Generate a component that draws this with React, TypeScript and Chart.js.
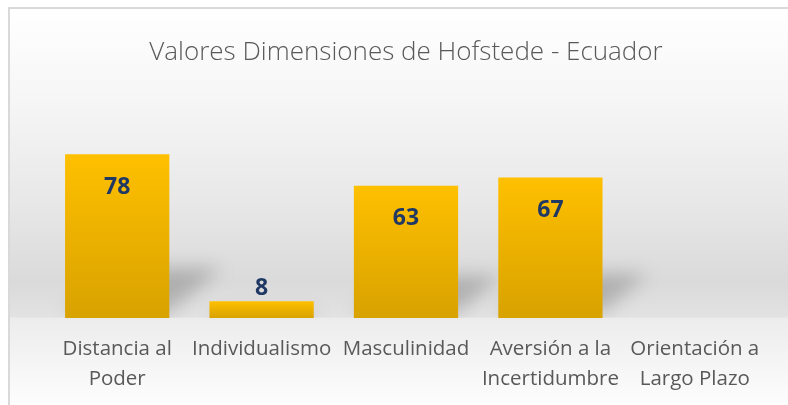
import React, { useEffect, useRef } from "react";
import { Chart, registerables } from "chart.js";

Chart.register(...registerables);

const TITLE = "Valores Dimensiones de Hofstede - Ecuador";
const CATEGORIES: string[][] = [
  ["Distancia al", "Poder"],
  ["Individualismo"],
  ["Masculinidad"],
  ["Aversión a la", "Incertidumbre"],
  ["Orientación a", "Largo Plazo"],
];
const VALUES: (number | null)[] = [78, 8, 63, 67, null];
const Y_MIN = 0;
const Y_MAX = 90;

const FONT = "'Open Sans', 'Noto Sans', sans-serif";

const backgroundPlugin = {
  id: "bgPlugin",
  beforeDraw(chart: any) {
    const { ctx, width, height, chartArea } = chart;
    ctx.save();
    ctx.fillStyle = "#ffffff";
    ctx.fillRect(0, 0, width, height);
    const top = 9;
    const base = chartArea.bottom;
    const g = ctx.createLinearGradient(0, top, 0, height);
    const t = (y: number) => Math.min(1, Math.max(0, (y - top) / (height - top)));
    g.addColorStop(0, "#ffffff");
    g.addColorStop(t(100), "#f6f6f6");
    g.addColorStop(t(200), "#e8e8e8");
    g.addColorStop(t(base - 36), "#dadada");
    g.addColorStop(t(base - 1), "#e2e2e2");
    g.addColorStop(t(base), "#ececec");
    g.addColorStop(t(base + 40), "#f4f4f4");
    g.addColorStop(1, "#fdfdfd");
    ctx.fillStyle = g;
    ctx.fillRect(10, top, width - 10, height - top);
    ctx.fillStyle = "#d9d9d9";
    ctx.fillRect(8, 7, 2, height - 7);
    ctx.fillRect(8, 7, width - 8, 2);
    ctx.restore();
  },
};

const shadowPlugin = {
  id: "shadowPlugin",
  beforeDatasetsDraw(chart: any) {
    const { ctx, chartArea } = chart;
    const meta = chart.getDatasetMeta(0);
    ctx.save();
    ctx.beginPath();
    ctx.rect(chartArea.left, chartArea.top - 60, chartArea.width + 20, chartArea.bottom - chartArea.top + 60);
    ctx.clip();
    ctx.filter = "blur(9px)";
    ctx.fillStyle = "rgba(0,0,0,0.2)";
    meta.data.forEach((el: any, i: number) => {
      if (VALUES[i] == null) return;
      const h = el.base - el.y;
      const x0 = el.x - el.width / 2;
      const x1 = el.x + el.width / 2;
      const dx = h * 0.32;
      const dy = h * 0.27;
      const lift = Math.min(6, h * 0.05);
      const b = el.base - lift;
      ctx.beginPath();
      ctx.moveTo(x0, b);
      ctx.lineTo(x1, b);
      ctx.lineTo(x1 + dx, b - dy);
      ctx.lineTo(x0 + dx, b - dy);
      ctx.closePath();
      ctx.fill();
    });
    ctx.restore();
  },
};

const valueLabelPlugin = {
  id: "valueLabels",
  afterDatasetsDraw(chart: any) {
    const { ctx } = chart;
    const meta = chart.getDatasetMeta(0);
    ctx.save();
    ctx.font = `bold 23px ${FONT}`;
    ctx.fillStyle = "#203864";
    ctx.textAlign = "center";
    ctx.textBaseline = "middle";
    meta.data.forEach((el: any, i: number) => {
      const v = VALUES[i];
      if (v == null) return;
      const h = el.base - el.y;
      const y = h > 40 ? el.y + 33 : el.y - 13;
      ctx.fillText(String(v), el.x, y);
    });
    ctx.restore();
  },
};

export default function App() {
  const ref = useRef<HTMLCanvasElement | null>(null);

  useEffect(() => {
    if (!ref.current) return;
    const chart = new Chart(ref.current, {
      type: "bar",
      data: {
        labels: CATEGORIES,
        datasets: [
          {
            data: VALUES,
            borderWidth: 0,
            barPercentage: 0.722,
            categoryPercentage: 1,
            backgroundColor: (ctx: any) => {
              const c = ctx.chart;
              const ys = c.scales?.y;
              const v = ctx.raw;
              if (!ys || v == null) return "#FFC000";
              const yTop = ys.getPixelForValue(v);
              const yBase = ys.getPixelForValue(0);
              if (!isFinite(yTop) || !isFinite(yBase) || yTop === yBase) return "#FFC000";
              const g = c.ctx.createLinearGradient(0, yTop, 0, yBase);
              g.addColorStop(0, "#FFC000");
              g.addColorStop(1, "#D8A200");
              return g;
            },
          },
        ],
      },
      options: {
        animation: false,
        responsive: false,
        devicePixelRatio: 1,
        layout: { padding: { left: 45, right: 21, top: 8, bottom: 0 } },
        plugins: {
          legend: { display: false },
          tooltip: { enabled: false },
          title: {
            display: true,
            text: TITLE,
            color: "#595959",
            font: { family: FONT, size: 26, weight: "300", lineHeight: 1.2 },
            padding: { top: 29, bottom: 61 },
          },
        },
        scales: {
          x: {
            grid: { display: false, drawTicks: false },
            border: { display: false },
            ticks: {
              color: "#595959",
              font: { family: FONT, size: 20.5, lineHeight: 1.42 },
              padding: 17,
              maxRotation: 0,
              autoSkip: false,
            },
            afterFit: (s: any) => {
              s.height = 87;
            },
          },
          y: { display: false, min: Y_MIN, max: Y_MAX },
        },
      },
      plugins: [backgroundPlugin, shadowPlugin, valueLabelPlugin],
    } as any);
    return () => chart.destroy();
  }, []);

  return (
    <div style={{ position: "absolute", left: 0, top: 0, width: 788, height: 405 }}>
      <canvas ref={ref} width={788} height={405} style={{ display: "block" }} />
    </div>
  );
}
